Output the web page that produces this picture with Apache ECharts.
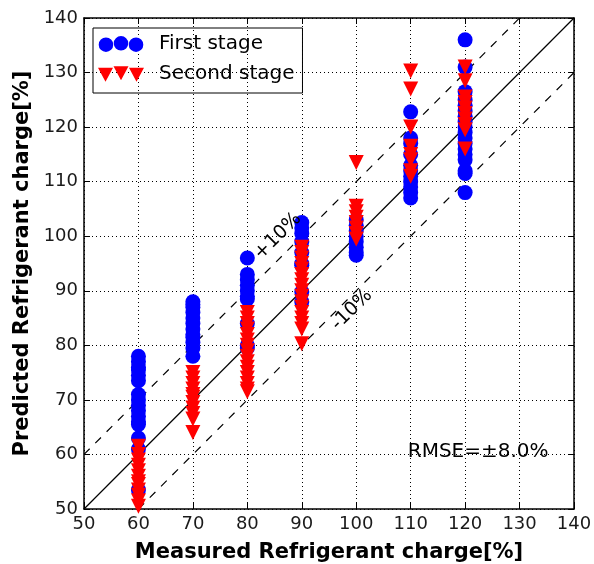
<!DOCTYPE html>
<html>
<head>
<meta charset="utf-8">
<script src="https://cdn.jsdelivr.net/npm/echarts@6/dist/echarts.min.js"></script>
<style>
html,body{margin:0;padding:0;background:#fff;}
#chart{width:594px;height:564px;}
</style>
</head>
<body>
<div id="chart"></div>
<script>
// ---- data ----
var axisTicks = [50, 60, 70, 80, 90, 100, 110, 120, 130, 140];
var firstStageX = [60, 70, 80, 90, 100, 110, 120];
var firstStageY = [
  [78, 77, 76, 75.5, 74.5, 73.5, 71, 70, 69, 68, 67, 66, 65.5, 63, 61, 53.5],
  [88, 87.5, 87, 86, 85, 84, 83, 82, 81.5, 80.5, 79.5, 78],
  [96, 93, 92, 91, 90, 89, 88.5, 84, 80, 79.5],
  [102.5, 101.5, 100.5, 99, 97, 95, 94.7, 89.8, 88],
  [103, 102, 101, 100, 99, 98, 97, 96.5],
  [122.8, 118, 117, 115, 113, 112, 111, 110, 109, 108, 107],
  [136, 131, 126.5, 125, 124, 123, 122, 121, 120, 119, 118, 117, 116, 115, 114, 112, 111.5, 108]
];
var secondStageX = [60, 70, 80, 90, 100, 110, 120];
var secondStageY = [
  [61.5, 60, 59, 58, 57, 56, 55, 54.5, 53.5, 52.5, 51.5, 50.5],
  [75, 74, 73, 72, 71, 70.5, 69.5, 68.5, 67.5, 66.5, 64],
  [86, 85, 84, 83, 82, 81, 80, 79, 78, 77, 76, 75, 74, 73, 72, 71.5],
  [98, 97, 96, 95, 94, 93, 92, 91, 90, 89, 88, 87, 86, 85, 84, 83, 80.3],
  [113.5, 105.5, 104.5, 103.5, 102.5, 101.5, 100.5, 99.5],
  [130.3, 127, 120, 116.5, 115, 114, 112, 111],
  [131, 128.5, 125.5, 124.5, 123.5, 122.5, 121.5, 120.5, 119.5, 116]
];
var lineUpper = [[50, 60], [130, 140]];
var lineIdeal = [[50, 50], [140, 140]];
var lineLower = [[60, 50], [140, 130]];
var annotations = [
  {text: '+10%', x: 85.6, y: 100},
  {text: '-10%', x: 99.2, y: 86.5}
];
var rmseText = 'RMSE=\u00b18.0%';
var rmsePos = [122.4, 60.5];

function flatten(xs, ys) {
  var out = [];
  for (var i = 0; i < xs.length; i++) {
    for (var j = 0; j < ys[i].length; j++) out.push([xs[i], ys[i][j]]);
  }
  return out;
}

var FONT = 'DejaVu Sans';
var circleIcon = 'path://M0,8.5a7.5,7.5 0 1,0 15,0a7.5,7.5 0 1,0 -15,0Z M15.5,7a7.5,7.5 0 1,0 15,0a7.5,7.5 0 1,0 -15,0Z M31,8.5a7.5,7.5 0 1,0 15,0a7.5,7.5 0 1,0 -15,0Z';
var triIcon = 'path://M0,1.5L15,1.5L7.5,15.5Z M15.5,0L30.5,0L23,14Z M31,1.5L46,1.5L38.5,15.5Z';

var chart = echarts.init(document.getElementById('chart'), null, {renderer: 'canvas'});

function axisBase(pos, showLabel, split) {
  return {
    type: 'value', min: 50, max: 140, interval: 10, position: pos,
    axisLine: {show: true, onZero: false, lineStyle: {color: '#000', width: 1.5}},
    axisTick: {show: true, inside: true, length: 6, lineStyle: {color: '#000', width: 1}},
    axisLabel: {show: showLabel, color: '#1a1a1a', fontFamily: FONT, fontSize: 18, margin: 6},
    splitLine: {show: split, lineStyle: {color: '#000', width: 1, type: [1, 3]}}
  };
}

var xMain = axisBase('bottom', true, true);
xMain.name = 'Measured Refrigerant charge[%]';
xMain.nameLocation = 'middle';
xMain.nameGap = 33;
xMain.nameTextStyle = {fontFamily: FONT, fontWeight: 'bold', fontSize: 21, color: '#000'};
var yMain = axisBase('left', true, true);
yMain.name = 'Predicted Refrigerant charge[%]';
yMain.nameLocation = 'middle';
yMain.nameGap = 45;
yMain.nameTextStyle = {fontFamily: FONT, fontWeight: 'bold', fontSize: 21, color: '#000'};

var option = {
  animation: false,
  backgroundColor: '#fff',
  grid: {left: 84, top: 18, width: 490, height: 491, containLabel: false, outerBoundsMode: 'none'},
  xAxis: [xMain, axisBase('top', false, false)],
  yAxis: [yMain, axisBase('right', false, false)],
  legend: {
    left: 93, top: 28, orient: 'vertical',
    borderColor: '#000', borderWidth: 1, borderRadius: 0,
    padding: [6, 8, 9, 5],
    itemWidth: 46, itemHeight: 16, itemGap: 10,
    textStyle: {fontFamily: FONT, fontSize: 20, color: '#000', padding: [0, 0, 0, 10]},
    data: [
      {name: 'First stage', icon: circleIcon, itemStyle: {color: '#0000ff'}},
      {name: 'Second stage', icon: triIcon, itemStyle: {color: '#ff0000'}}
    ]
  },
  series: [
    {type: 'line', data: lineUpper, symbol: 'none', silent: true, z: 1,
     lineStyle: {color: '#000', width: 1.2, type: [8, 8]}},
    {type: 'line', data: lineIdeal, symbol: 'none', silent: true, z: 1,
     lineStyle: {color: '#000', width: 1.2}},
    {type: 'line', data: lineLower, symbol: 'none', silent: true, z: 1,
     lineStyle: {color: '#000', width: 1.2, type: [8, 8]}},
    {name: 'First stage', type: 'scatter', data: flatten(firstStageX, firstStageY),
     symbol: 'circle', symbolSize: 15, z: 2, itemStyle: {color: '#0000ff', opacity: 1}},
    {name: 'Second stage', type: 'scatter', data: flatten(secondStageX, secondStageY),
     symbol: 'triangle', symbolRotate: 180, symbolSize: 15, z: 3, itemStyle: {color: '#ff0000', opacity: 1}}
  ]
};
chart.setOption(option);

var g = [];
annotations.forEach(function (a) {
  var p = chart.convertToPixel({gridIndex: 0}, [a.x, a.y]);
  g.push({type: 'text', x: p[0], y: p[1], rotation: Math.PI / 4, z: 10,
    style: {text: a.text, fontFamily: FONT, fontSize: 19, fill: '#000', align: 'center', verticalAlign: 'middle'}});
});
var rp = chart.convertToPixel({gridIndex: 0}, rmsePos);
g.push({type: 'text', x: rp[0], y: rp[1], z: 10,
  style: {text: rmseText, fontFamily: FONT, fontSize: 20, fill: '#000', align: 'center', verticalAlign: 'middle'}});
chart.setOption({graphic: g});
</script>
</body>
</html>
